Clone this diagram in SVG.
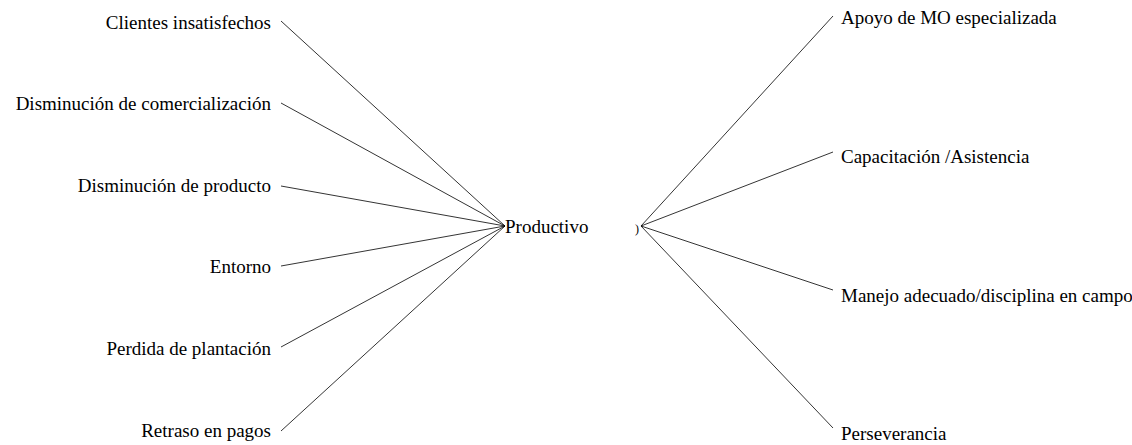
<svg xmlns="http://www.w3.org/2000/svg" width="1132" height="445" viewBox="0 0 1132 445">
<style>
text{font-family:'Liberation Serif','Times New Roman','DejaVu Serif',serif;font-size:19px;fill:#000}
.l{text-anchor:end}
.c line{stroke:#000;stroke-width:0.8}
</style>
<rect width="1132" height="445" fill="#fff"/>
<g class="c" id="connectors">
<line x1="281" y1="21" x2="505" y2="226"/>
<line x1="281" y1="103" x2="505" y2="226"/>
<line x1="281" y1="186" x2="505" y2="226"/>
<line x1="281" y1="266" x2="505" y2="226"/>
<line x1="281" y1="347" x2="505" y2="226"/>
<line x1="281" y1="431" x2="505" y2="226"/>
<line x1="641" y1="226" x2="833" y2="16"/>
<line x1="641" y1="226" x2="833" y2="152"/>
<line x1="641" y1="226" x2="833" y2="290"/>
<line x1="641" y1="226" x2="833" y2="428"/>
</g>
<g id="n1"><text class="l" x="271" y="29">Clientes insatisfechos</text></g>
<g id="n2"><text class="l" x="271" y="110">Disminución de comercialización</text></g>
<g id="n3"><text class="l" x="271" y="192">Disminución de producto</text></g>
<g id="n4"><text class="l" x="271" y="273">Entorno</text></g>
<g id="n5"><text class="l" x="271" y="355">Perdida de plantación</text></g>
<g id="n6"><text class="l" x="271" y="437">Retraso en pagos</text></g>
<g id="center"><text x="505" y="233">Productivo</text><text x="635" y="233" style="font-size:12px">)</text></g>
<g id="r1"><text x="841" y="24">Apoyo de MO especializada</text></g>
<g id="r2"><text x="841" y="163">Capacitación /Asistencia</text></g>
<g id="r3"><text x="841" y="302">Manejo adecuado/disciplina en campo</text></g>
<g id="r4"><text x="841" y="440">Perseverancia</text></g>
</svg>
